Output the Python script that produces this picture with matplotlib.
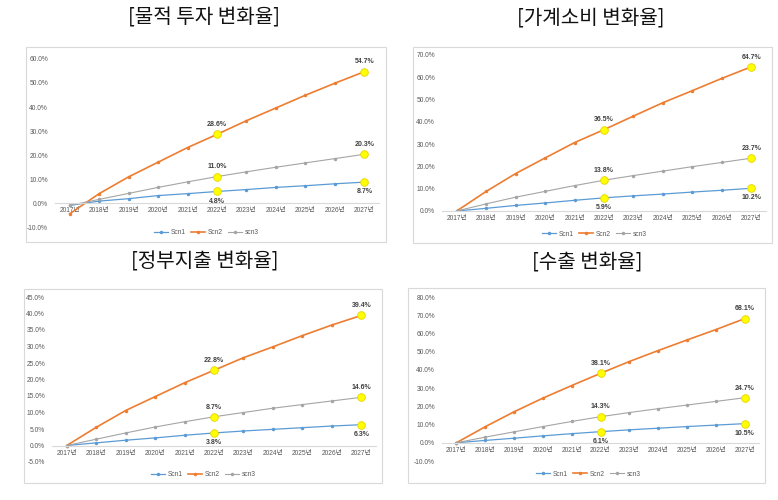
import matplotlib
matplotlib.use("Agg")
import matplotlib.pyplot as plt
from matplotlib.patches import Rectangle

plt.rcParams['font.family'] = ['Liberation Sans', 'Noto Sans CJK KR', 'DejaVu Sans']

W, H = 778, 500

years = ['2017년', '2018년', '2019년', '2020년', '2021년', '2022년',
         '2023년', '2024년', '2025년', '2026년', '2027년']
series_names = ['Scn1', 'Scn2', 'scn3']

# 물적 투자
inv_scn1 = [-1.0, 0.8, 1.8, 3.1, 3.9, 4.8, 5.6, 6.5, 7.2, 8.0, 8.7]
inv_scn2 = [-4.5, 3.9, 10.9, 17.0, 23.1, 28.6, 34.3, 39.6, 44.9, 49.9, 54.7]
inv_scn3 = [-1.0, 1.5, 4.0, 6.5, 8.8, 11.0, 13.0, 14.9, 16.7, 18.5, 20.3]

# 가계소비
cons_scn1 = [0.0, 1.2, 2.5, 3.6, 4.8, 5.9, 6.8, 7.6, 8.5, 9.3, 10.2]
cons_scn2 = [0.0, 8.8, 16.8, 23.8, 30.7, 36.5, 42.6, 48.6, 54.0, 59.5, 64.7]
cons_scn3 = [0.0, 3.2, 6.2, 8.8, 11.4, 13.8, 15.9, 17.9, 19.9, 21.8, 23.7]

# 정부지출
gov_scn1 = [0.0, 0.8, 1.6, 2.3, 3.1, 3.8, 4.4, 4.9, 5.4, 5.9, 6.3]
gov_scn2 = [0.0, 5.5, 10.6, 14.8, 19.0, 22.8, 26.6, 29.9, 33.3, 36.5, 39.4]
gov_scn3 = [0.0, 1.9, 3.8, 5.6, 7.2, 8.7, 10.0, 11.3, 12.4, 13.5, 14.6]

# 수출
exp_scn1 = [0.0, 1.3, 2.5, 3.8, 5.0, 6.1, 7.1, 8.0, 8.9, 9.7, 10.5]
exp_scn2 = [0.0, 8.8, 17.0, 24.5, 31.4, 38.1, 44.6, 50.6, 56.4, 62.1, 68.1]
exp_scn3 = [0.0, 3.1, 6.0, 8.9, 11.7, 14.3, 16.6, 18.7, 20.7, 22.7, 24.7]

titles = ['[물적 투자 변화율]', '[가계소비 변화율]', '[정부지출 변화율]', '[수출 변화율]']
highlight_idx = [5, 10]

colors = ['#5B9BD5', '#ED7D31', '#A5A5A5']
widths = [0.9, 1.2, 0.8]


def fig_box(l, t, r, b):
    return [l / W, 1 - b / H, (r - l) / W, (b - t) / H]


fig = plt.figure(figsize=(W / 100, H / 100), dpi=100)

panels = [
    dict(data=[inv_scn1, inv_scn2, inv_scn3], ax=(55, 59, 379, 227), ylim=(-10, 60), step=10,
         frame=(26, 47, 386, 242), title=(204, 18), legend=(206, 233)),
    dict(data=[cons_scn1, cons_scn2, cons_scn3], ax=(442, 55, 766, 211), ylim=(0, 70), step=10,
         frame=(413, 47, 772, 243), title=(591, 18), legend=(594, 234)),
    dict(data=[gov_scn1, gov_scn2, gov_scn3], ax=(52, 297, 376, 462), ylim=(-5, 45), step=5,
         frame=(24, 289, 382, 483), title=(205, 262), legend=(203, 475)),
    dict(data=[exp_scn1, exp_scn2, exp_scn3], ax=(442, 297, 759, 461), ylim=(-10, 80), step=10,
         frame=(408, 288, 765, 483), title=(587, 262), legend=(588, 474)),
]

x = list(range(len(years)))

for p, title in zip(panels, titles):
    fl, ft, fr, fb = p['frame']
    fig.add_artist(Rectangle((fl / W, 1 - fb / H), (fr - fl) / W, (fb - ft) / H,
                             transform=fig.transFigure, fill=False,
                             edgecolor='#D9D9D9', lw=0.8))
    fig.text(p['title'][0] / W, 1 - p['title'][1] / H, title, ha='center', va='center',
             fontsize=14.5, family=['Noto Sans CJK KR', 'DejaVu Sans'], color='#111111')

    ax = fig.add_axes(fig_box(*p['ax']))
    lines = []
    for vals, name, c, lw in zip(p['data'], series_names, colors, widths):
        ln, = ax.plot(x, vals, color=c, lw=lw, marker='o', markersize=1.5, label=name)
        lines.append(ln)

    # 2022, 2027 강조 점 + 값 라벨
    for k, vals in enumerate(p['data']):
        for i in highlight_idx:
            ax.plot(x[i], vals[i], 'o', markersize=5.5, markerfacecolor='#FFFF00',
                    markeredgecolor='#E6D200', markeredgewidth=0.6, zorder=5)
            off = -7 if k == 0 else 7
            ax.annotate(f"{vals[i]:.1f}%", (x[i], vals[i]), xytext=(0, off),
                        textcoords='offset points', ha='center', va='center',
                        fontsize=5, fontweight='bold', color='#404040', zorder=6)

    lo, hi = p['ylim']
    ax.set_ylim(lo, hi)
    ax.set_xlim(-0.5, len(years) - 0.5)
    ax.set_yticks(list(range(lo, hi + 1, p['step'])))
    ax.set_yticklabels([f"{v:.1f}%" for v in range(lo, hi + 1, p['step'])])
    ax.set_xticks(x)
    ax.set_xticklabels(years)
    for s in ['top', 'right', 'left']:
        ax.spines[s].set_visible(False)
    ax.spines['bottom'].set_position(('data', 0))
    ax.spines['bottom'].set_color('#D9D9D9')
    ax.spines['bottom'].set_linewidth(0.8)
    ax.tick_params(axis='both', length=0, labelsize=4.8, colors='#595959')
    ax.tick_params(axis='y', pad=5)
    ax.tick_params(axis='x', pad=3)
    ax.patch.set_alpha(0)

    ax.legend(handles=lines, loc='center', ncol=3, frameon=False, fontsize=4.8,
              bbox_to_anchor=(p['legend'][0] / W, 1 - p['legend'][1] / H),
              bbox_transform=fig.transFigure, handlelength=2.2, columnspacing=0.8,
              handletextpad=0.3, labelcolor='#595959')

fig.savefig('out.png', dpi=100)
